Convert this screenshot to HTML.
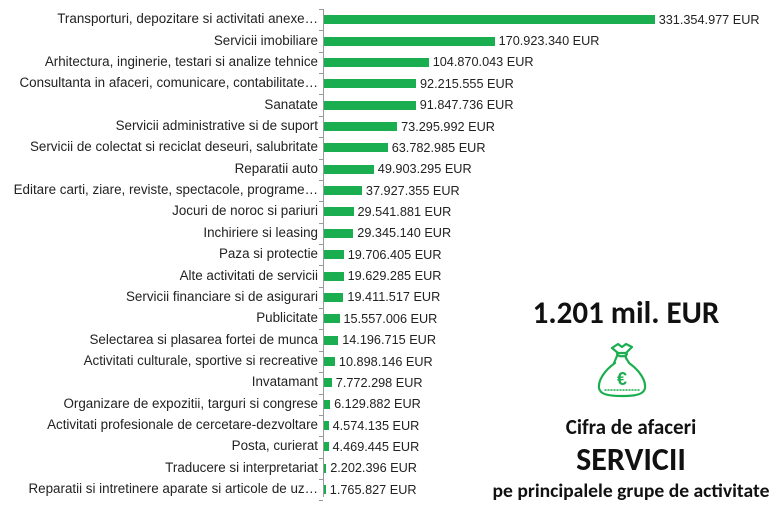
<!DOCTYPE html>
<html><head><meta charset="utf-8"><style>
body{margin:0;width:775px;height:509px;background:#fff;position:relative;overflow:hidden;font-family:"Liberation Sans",sans-serif;color:#222}
.l{position:absolute;right:457px;font-size:13.4px;white-space:nowrap;line-height:14px}
.b{position:absolute;left:324px;height:9px;background:#1aae50}
.v{position:absolute;font-size:12.7px;line-height:14px;white-space:nowrap}
.t{position:absolute;left:319px;width:4px;height:1px;background:#999}
.c{position:absolute;left:481px;width:300px;text-align:center;font-family:"Carlito","Liberation Sans",sans-serif;font-weight:bold;color:#111;white-space:nowrap}
</style></head><body>
<div style="position:absolute;left:323px;top:9px;width:1px;height:488px;background:#999"></div>
<div id="c"></div>
<div class="c" style="top:294px;font-size:31px;left:476px">1.201 mil. EUR</div>
<svg style="position:absolute;left:595px;top:343px" width="54" height="56" viewBox="0 0 54 56" fill="none" stroke="#1aae50" stroke-width="2.2" stroke-linecap="round" stroke-linejoin="round">
<path d="M17 5 L23 10 L31 10 L37 4 L31 1 L27 4 L23 1 Z"/>
<path d="M22 11 C23 14 31 14 32 11"/>
<path d="M22 13 L19 20 M20 20 C10 27 3 37 4 45 C5 51 12 53 27 53 C42 53 49 51 50 45 C51 37 44 27 34 20 C32 16 30 15 31 13"/>
<path d="M10 47 L44 47" stroke-dasharray="1 2" stroke-width="1.5"/>
<text x="27" y="42" text-anchor="middle" font-family="Liberation Sans" font-weight="bold" font-size="18" fill="#1aae50" stroke="none">€</text>
</svg>
<div class="c" style="top:414px;font-size:21px">Cifra de afaceri</div>
<div class="c" style="top:440px;font-size:32px">SERVICII</div>
<div class="c" style="top:479px;font-size:19.6px">pe principalele grupe de activitate</div>
<script>
var d=[["Transporturi, depozitare si activitati anexe…",331.354977,"331.354.977"],["Servicii imobiliare",170.92334,"170.923.340"],["Arhitectura, inginerie, testari si analize tehnice",104.870043,"104.870.043"],["Consultanta in afaceri, comunicare, contabilitate…",92.215555,"92.215.555"],["Sanatate",91.847736,"91.847.736"],["Servicii administrative si de suport",73.295992,"73.295.992"],["Servicii de colectat si reciclat deseuri, salubritate",63.782985,"63.782.985"],["Reparatii auto",49.903295,"49.903.295"],["Editare carti, ziare, reviste, spectacole, programe…",37.927355,"37.927.355"],["Jocuri de noroc si pariuri",29.541881,"29.541.881"],["Inchiriere si leasing",29.34514,"29.345.140"],["Paza si protectie",19.706405,"19.706.405"],["Alte activitati de servicii",19.629285,"19.629.285"],["Servicii financiare si de asigurari",19.411517,"19.411.517"],["Publicitate",15.557006,"15.557.006"],["Selectarea si plasarea fortei de munca",14.196715,"14.196.715"],["Activitati culturale, sportive si recreative",10.898146,"10.898.146"],["Invatamant",7.772298,"7.772.298"],["Organizare de expozitii, targuri si congrese",6.129882,"6.129.882"],["Activitati profesionale de cercetare-dezvoltare",4.574135,"4.574.135"],["Posta, curierat",4.469445,"4.469.445"],["Traducere si interpretariat",2.202396,"2.202.396"],["Reparatii si intretinere aparate si articole de uz…",1.765827,"1.765.827"]];
var h="",s=21.36;
for(var i=0;i<=23;i++)h+='<div class="t" style="top:'+(9+i*s).toFixed(1)+'px"></div>';
d.forEach(function(r,i){var y=19.7+i*s,w=r[1]*0.998;
h+='<div class="l" style="top:'+(y-7.5).toFixed(1)+'px">'+r[0]+'</div>';
h+='<div class="b" style="top:'+(y-4.5).toFixed(1)+'px;width:'+w.toFixed(1)+'px"></div>';
h+='<div class="v" style="top:'+(y-7).toFixed(1)+'px;left:'+(324+w+4).toFixed(1)+'px">'+r[2]+' EUR</div>';});
document.getElementById("c").innerHTML=h;
</script>
</body></html>
